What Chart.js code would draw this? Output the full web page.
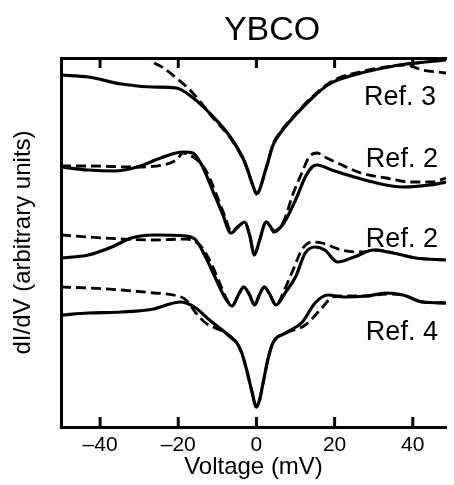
<!DOCTYPE html>
<html>
<head>
<meta charset="utf-8">
<script src="https://cdn.jsdelivr.net/npm/chart.js@4.4.0/dist/chart.umd.min.js"></script>
<style>
  body { margin: 0; background: #fff; }
  #wrap { width: 454px; height: 485px; }
</style>
</head>
<body>
<div id="wrap"><canvas id="ybcoChart"></canvas></div>
<script>
// tunneling spectra of YBCO, four references, measured (solid) vs fit (dashed)
// voltages in mV, dI/dV in arbitrary units (curves offset vertically)

const ref3SolidV = [-50, -43, -34.5, -26.5, -20.5, -16.5, -11.5, -6.5, -3, -0.5, 0, 2.5, 4.25, 5.75, 10, 14.25, 18.25, 20.75, 26.75, 32.5, 38.25, 43.25, 48.5];
const ref3SolidY = [35.2, 35.0, 34.3, 34.0, 33.9, 33.0, 31.2, 28.9, 26.5, 23.7, 23.3, 25.9, 28.2, 29.2, 31.2, 32.9, 34.2, 34.7, 35.4, 35.9, 36.3, 36.5, 36.7];
const ref3DashV = [-28.5, -27, -23.75, -20.5, -17, -14.5, -11.5, -6.5, -3, -0.5, 0, 2.5, 4.25, 5.75, 10, 14.25, 18.25, 21, 27.5, 33, 38.25, 42.5, 48.5];
const ref3DashY = [37.6, 36.7, 35.9, 34.9, 33.7, 32.6, 31.1, 28.8, 26.4, 23.7, 23.3, 25.9, 28.3, 29.3, 31.3, 33.0, 34.3, 34.9, 35.6, 36.0, 36.2, 35.7, 35.4];

const ref2aSolidV = [-50, -43, -36.25, -30.5, -24.5, -18.75, -16.25, -13.75, -11.25, -8.75, -6.5, -4.5, -3, -1.75, -0.5, 0.75, 2.5, 3.5, 4.5, 7, 10, 12.5, 14.25, 15.5, 19.25, 25, 30.75, 37.5, 44.25, 48.5];
const ref2aSolidY = [26.0, 25.7, 25.6, 26.0, 26.9, 27.5, 27.4, 26.0, 23.7, 21.4, 19.4, 20.1, 20.5, 19.2, 17.2, 18.6, 20.5, 20.1, 19.5, 20.4, 22.7, 25.0, 26.0, 26.2, 25.7, 25.0, 24.4, 24.0, 24.2, 24.5];
const ref2aDashV = [-50, -42, -32, -24, -20.5, -18.75, -15.5, -13, -10.5, -8, -6.5, -4.5, -3, -1.75, -0.5, 0.75, 2.5, 3.5, 4.5, 7, 9.25, 11.5, 13.5, 15.4, 18, 20.75, 26.75, 33.25, 39.25, 45, 48.5];
const ref2aDashY = [26.1, 26.1, 26.0, 26.2, 26.7, 27.4, 26.8, 25.7, 23.5, 21.0, 19.6, 20.1, 20.5, 19.2, 17.3, 18.6, 20.5, 20.1, 19.6, 20.6, 23.2, 25.3, 27.0, 27.4, 26.9, 26.4, 25.4, 24.9, 24.5, 24.5, 24.9];

const ref2bSolidV = [-50, -43, -37, -32, -26.25, -18, -15.5, -13, -10.5, -8, -6.25, -4.5, -3.25, -1.75, -0.5, 0.75, 2, 3.5, 5, 7.5, 10, 12.5, 15, 17.5, 20.75, 25, 30, 35, 40.75, 48.5];
const ref2bSolidY = [16.9, 17.2, 18.0, 18.9, 19.2, 19.1, 18.7, 17.0, 14.9, 12.9, 12.1, 13.3, 14.0, 13.2, 12.2, 13.2, 14.0, 13.2, 12.2, 13.5, 15.0, 17.4, 18.0, 17.7, 16.5, 17.0, 17.7, 17.4, 16.9, 16.7];
const ref2bDashV = [-50, -43, -34.5, -26.25, -18, -14.5, -12, -9.5, -7.5, -6.25, -4.5, -3.25, -1.75, -0.5, 0.75, 2, 3.5, 5, 7.25, 9.25, 11.75, 14.25, 16.75, 21.75, 26.75, 30.75, 35, 40.75, 48.5];
const ref2bDashY = [19.2, 19.0, 18.8, 18.7, 18.8, 18.2, 16.7, 14.5, 12.7, 12.1, 13.3, 14.0, 13.2, 12.2, 13.2, 14.0, 13.2, 12.2, 13.8, 15.6, 17.8, 18.5, 18.4, 17.7, 17.5, 17.7, 17.4, 16.9, 16.7];

const ref4SolidV = [-50, -43, -34.5, -26.25, -23, -19.5, -18, -15.5, -12, -8.75, -6.5, -5, -3.75, -2.5, -1.25, 0, 0.8, 1.7, 2.9, 4.2, 7.5, 11.75, 15, 18.25, 22.5, 28.25, 33.25, 37.5, 42.5, 48.5];
const ref4SolidY = [11.2, 11.4, 11.5, 11.8, 12.2, 12.5, 12.4, 11.9, 10.7, 9.7, 9.0, 8.4, 7.4, 5.7, 3.7, 2.0, 2.7, 4.4, 6.7, 8.4, 9.4, 10.5, 12.4, 13.2, 13.0, 13.1, 13.4, 13.2, 12.5, 12.4];
const ref4DashV = [-50, -43, -34.5, -26.25, -21.25, -18, -15.5, -13, -10.5, -8.25, -6.5, -5, -3.75, -2.5, -1.25, 0, 0.8, 1.7, 2.9, 4.2, 7.5, 12.5, 16.75, 19.5, 22.5, 28.25, 33.25, 37.5, 42.5, 48.5];
const ref4DashY = [14.0, 13.9, 13.7, 13.4, 13.2, 12.7, 11.4, 10.4, 9.9, 9.5, 8.9, 8.4, 7.4, 5.7, 3.7, 2.0, 2.7, 4.4, 6.7, 8.4, 9.4, 10.2, 11.9, 13.0, 13.1, 13.1, 13.3, 13.2, 12.5, 12.4];

const refNames = ["Ref. 3", "Ref. 2", "Ref. 2", "Ref. 4"];
const xTickValues = [-40, -20, 0, 20, 40];

const X_MIN = -50, X_MAX = 48.5;
const Y_MIN = 0, Y_MAX = 36.9;

const FONT = "'Liberation Sans', Arial, Helvetica, sans-serif";

function pts(v, y) {
  return v.map((x, i) => ({ x: x, y: y[i] }));
}

function solid(v, y) {
  return { data: pts(v, y), borderColor: "#000", borderWidth: 3.2, borderDash: [] };
}
function dashed(v, y) {
  return { data: pts(v, y), borderColor: "#000", borderWidth: 2.8, borderDash: [10, 5] };
}

// inward tick marks as vertical line markers, half a tick in from each edge
function tickMarks() {
  const d = [];
  xTickValues.forEach(v => {
    d.push({ x: v, y: Y_MIN + 0.5 });
    d.push({ x: v, y: Y_MAX - 0.5 });
  });
  return {
    data: d,
    showLine: false,
    pointStyle: "line",
    rotation: 90,
    pointRadius: 5,
    pointBorderWidth: 3,
    pointBorderColor: "#000",
    pointBackgroundColor: "#000",
    borderColor: "#000"
  };
}

// where the reference names sit, in data units (mV, dI/dV)
const nameSpots = [[27.5, 32.2], [28, 26.0], [28, 18.0], [28, 8.7]];

const textPlugin = {
  id: "textPlugin",
  afterDraw(chart) {
    const c = chart.ctx;
    const x = chart.scales.x;
    const y = chart.scales.y;
    c.save();
    c.fillStyle = "#000";
    c.textBaseline = "alphabetic";
    c.textAlign = "center";
    c.font = "34px " + FONT;
    c.fillText("YBCO", x.getPixelForValue(4), 40);
    c.textAlign = "left";
    c.font = "27px " + FONT;
    refNames.forEach((name, i) => {
      c.fillText(name, x.getPixelForValue(nameSpots[i][0]), y.getPixelForValue(nameSpots[i][1]));
    });
    c.restore();
  }
};

const canvas = document.getElementById("ybcoChart");

new Chart(canvas, {
  type: "line",
  data: {
    datasets: [
      solid(ref3SolidV, ref3SolidY),
      dashed(ref3DashV, ref3DashY),
      solid(ref2aSolidV, ref2aSolidY),
      dashed(ref2aDashV, ref2aDashY),
      solid(ref2bSolidV, ref2bSolidY),
      dashed(ref2bDashV, ref2bDashY),
      solid(ref4SolidV, ref4SolidY),
      dashed(ref4DashV, ref4DashY),
      tickMarks()
    ]
  },
  options: {
    responsive: true,
    maintainAspectRatio: false,
    animation: false,
    layout: { padding: 0 },
    elements: {
      point: { radius: 0 },
      line: { cubicInterpolationMode: "monotone", fill: false }
    },
    plugins: {
      legend: { display: false },
      tooltip: { enabled: false }
    },
    scales: {
      x: {
        type: "linear",
        position: "bottom",
        min: X_MIN,
        max: X_MAX,
        afterBuildTicks: s => { s.ticks = xTickValues.map(v => ({ value: v })); },
        ticks: {
          color: "#000",
          padding: 6,
          font: { family: FONT, size: 21 },
          callback: v => (v < 0 ? "\u2013" + Math.abs(v) : String(v))
        },
        grid: { drawOnChartArea: false, drawTicks: false },
        border: { color: "#000", width: 3 },
        title: {
          display: true,
          text: "Voltage (mV)",
          color: "#000",
          font: { family: FONT, size: 24 },
          padding: { top: 0, bottom: 3 }
        },
        afterFit: s => { s.height = 58; }
      },
      xTop: {
        type: "linear",
        position: "top",
        min: X_MIN,
        max: X_MAX,
        ticks: { display: false },
        grid: { drawOnChartArea: false, drawTicks: false },
        border: { color: "#000", width: 3 },
        afterFit: s => { s.height = 58; }
      },
      y: {
        type: "linear",
        min: Y_MIN,
        max: Y_MAX,
        ticks: { display: false },
        grid: { drawOnChartArea: false, drawTicks: false },
        border: { color: "#000", width: 3 },
        title: {
          display: true,
          text: "dI/dV (arbitrary units)",
          color: "#000",
          font: { family: FONT, size: 24 },
          padding: { top: 9, bottom: 0 }
        },
        afterFit: s => { s.width = 61; }
      }
    }
  },
  plugins: [textPlugin]
});
</script>
</body>
</html>
